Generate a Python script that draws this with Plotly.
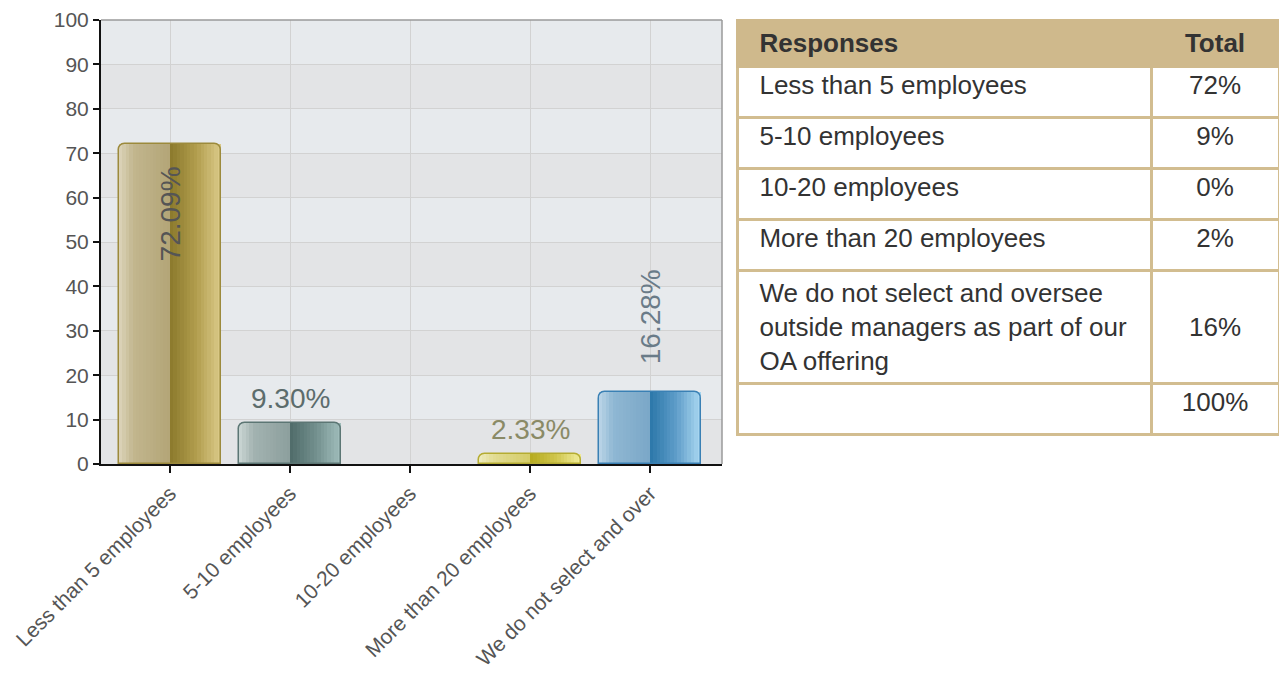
import plotly.graph_objects as go

# ---------------- data ----------------
categories = ["Less than 5 employees", "5-10 employees", "10-20 employees",
              "More than 20 employees", "We do not select and over"]
values = [72.09, 9.30, 0.0, 2.33, 16.28]
table_labels = ["Less than 5 employees", "5-10 employees", "10-20 employees",
                "More than 20 employees",
                "We do not select and oversee<br>outside managers as part of our<br>OA offering"]
y_ticks = [0, 10, 20, 30, 40, 50, 60, 70, 80, 90, 100]

# ---------------- styles ----------------
FONT = "Liberation Sans, Arial, sans-serif"
grads = [
    [(0.0, "#ddd5bb"), (0.14, "#c2b68e"), (0.5, "#b3a577"), (0.5, "#8b792c"), (0.75, "#b09c4c"), (1.0, "#dccb8a")],
    [(0.0, "#ccd7d5"), (0.14, "#a3b3b1"), (0.5, "#8c9f9d"), (0.5, "#4f6b69"), (0.75, "#728f8d"), (1.0, "#a2bfbd")],
    [(0.0, "#e0e0e0"), (1.0, "#e0e0e0")],
    [(0.0, "#efecc0"), (0.14, "#e2dc94"), (0.5, "#d4cc68"), (0.5, "#b5aa1c"), (0.75, "#cfc54c"), (1.0, "#f2ee9c")],
    [(0.0, "#bcd6e8"), (0.14, "#8fb7d3"), (0.5, "#7aa7c7"), (0.5, "#2b76a9"), (0.75, "#5d9cc8"), (1.0, "#acd9f2")],
]
borders = ["#9c8a3c", "#5c7674", "#999999", "#b5ac32", "#3a80b4"]
label_colors = ["#555555", "#5c6c6c", "#777777", "#8a8a66", "#6a7b88"]
BW = 0.85
NSTRIP = 30


def hex2rgb(h):
    h = h.lstrip("#")
    return tuple(int(h[i:i + 2], 16) for i in (0, 2, 4))


def grad_color(stops, t):
    for (p0, c0), (p1, c1) in zip(stops[:-1], stops[1:]):
        if p0 <= t <= p1 and p1 > p0:
            f = (t - p0) / (p1 - p0)
            a, b = hex2rgb(c0), hex2rgb(c1)
            return "rgb(%d,%d,%d)" % tuple(round(a[k] + (b[k] - a[k]) * f) for k in range(3))
    return stops[-1][1]


fig = go.Figure()

# background bands
band_cols = ["#e3e4e6", "#e7eaed"]
for i, (a, b) in enumerate(zip(y_ticks[:-1], y_ticks[1:])):
    fig.add_shape(type="rect", xref="x domain", yref="y", x0=0, x1=1, y0=a, y1=b,
                  fillcolor=band_cols[i % 2], line_width=0, layer="below")

# gradient strips
sw = BW / NSTRIP
for s in range(NSTRIP):
    t = (s + 0.5) / NSTRIP
    fig.add_trace(go.Bar(
        x=categories, y=values, width=sw * 1.08, offset=-BW / 2 + s * sw,
        marker=dict(color=[grad_color(g, t) for g in grads], line_width=0),
        hoverinfo="skip", showlegend=False))

# outline (rounded top)
fig.add_trace(go.Bar(
    x=categories, y=values, width=BW,
    marker=dict(color="rgba(0,0,0,0)",
                line=dict(color=borders, width=[1.5 if v > 0 else 0 for v in values]),
                cornerradius=7),
    hoverinfo="skip", showlegend=False))

# value labels
for c, v, col in zip(categories, values, label_colors):
    if v <= 0:
        continue
    txt = f"{v:.2f}%"
    f = dict(family=FONT, size=28, color=col)
    if v > 50:
        fig.add_annotation(x=c, y=v, text=txt, textangle=-90, showarrow=False,
                           yanchor="top", yshift=-21, font=f)
    elif v > 12:
        fig.add_annotation(x=c, y=v, text=txt, textangle=-90, showarrow=False,
                           yanchor="bottom", yshift=25, font=f)
    else:
        fig.add_annotation(x=c, y=v, text=txt, showarrow=False,
                           yanchor="bottom", yshift=7, font=f)

# frame top/right
fig.add_shape(type="line", xref="x domain", yref="y domain", x0=0, x1=1, y0=1, y1=1,
              line=dict(color="#9a9a9a", width=1.5))
fig.add_shape(type="line", xref="x domain", yref="y domain", x0=1, x1=1, y0=0, y1=1,
              line=dict(color="#9a9a9a", width=1.5))

# table
pad = "\u00a0\u00a0"
col1 = [pad + l.replace("<br>", "<br>" + pad) for l in table_labels] + [""]
col2 = []
for l, v in zip(table_labels, values):
    nl = l.count("<br>")
    col2.append(("\u00a0<br>" * ((nl + 1) // 2)) + f"{round(v)}%")
col2.append(f"{round(sum(values))}%")

fig.add_trace(go.Table(
    domain=dict(x=[(737 - 101) / 1178, 1.0], y=[0, 1]),
    columnwidth=[414, 128],
    header=dict(values=[pad + "<b>Responses</b>", "<b>Total</b>"],
                align=["left", "center"], height=46,
                fill_color="#cfb98c", line=dict(color="#cfb98c", width=3),
                font=dict(family=FONT, size=26, color="#333333")),
    cells=dict(values=[col1, col2], align=["left", "center"], height=51,
               fill_color="white", line=dict(color="#d2bd90", width=3),
               font=dict(family=FONT, size=26, color="#333333")),
))

fig.update_layout(
    width=1279, height=675,
    margin=dict(l=101, r=0, t=20, b=211),
    paper_bgcolor="white", plot_bgcolor="#e5e7ea",
    barmode="overlay", bargap=0,
    showlegend=False,
    font=dict(family=FONT, color="#555555"),
    xaxis=dict(domain=[0, (722 - 101) / 1178], range=[-0.575, 4.6], automargin=False,
               type="category", categoryorder="array", categoryarray=categories,
               showgrid=True, gridcolor="#d2d2d2", gridwidth=1,
               showline=True, linecolor="#111111", linewidth=2,
               ticks="outside", ticklen=7, tickcolor="#111111", tickwidth=1.5,
               tickangle=-45, tickfont=dict(family=FONT, size=21, color="#555555")),
    yaxis=dict(range=[0, 100], tickvals=y_ticks, showgrid=True, gridcolor="#d2d2d2",
               gridwidth=1.2, zeroline=False, automargin=False,
               showline=True, linecolor="#111111", linewidth=2,
               ticks="outside", ticklen=6, tickcolor="#111111", tickwidth=1.5,
               tickfont=dict(family=FONT, size=21, color="#555555")),
)

fig.write_html("out.html")
